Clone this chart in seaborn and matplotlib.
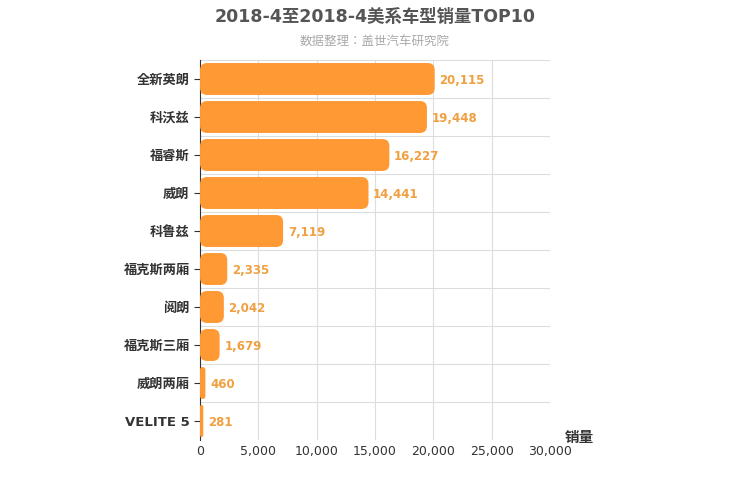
import matplotlib
matplotlib.use("Agg")
import matplotlib.pyplot as plt
import seaborn as sns
import pandas as pd
from matplotlib.patches import FancyBboxPatch

categories = ["全新英朗","科沃兹","福睿斯","威朗","科鲁兹","福克斯两厢","阅朗","福克斯三厢","威朗两厢","VELITE 5"]
values = [20115,19448,16227,14441,7119,2335,2042,1679,460,281]
xticks = [0,5000,10000,15000,20000,25000,30000]

plt.rcParams["font.family"] = ["DejaVu Sans","Noto Sans CJK JP","Noto Sans CJK SC","Noto Sans CJK TC","Noto Sans CJK KR"]
fig = plt.figure(figsize=(7.5,5), dpi=100)
ax = fig.add_axes([0.2667,0.12,0.4667,0.76])
df = pd.DataFrame({"c":categories,"v":values})
sns.barplot(data=df, x="v", y="c", color="#ff9933", width=0.84, ax=ax, saturation=1)
ax.set_xlim(0,30000); ax.set_ylim(9.5,-0.5)
asp = (10/380)/(30000/350)
for p in list(ax.patches):
    x,y,w,h = p.get_x(),p.get_y(),p.get_width(),p.get_height()
    r = min(600, w/2)
    fb = FancyBboxPatch((x,y),w,h,boxstyle=f"round,pad=0,rounding_size={r}",mutation_aspect=asp,
                        fc="#ff9933",ec="none",zorder=3)
    p.remove(); ax.add_patch(fb)
for i,v in enumerate(values):
    ax.text(v+400,i+0.05,f"{v:,}",va="center",ha="left",color="#f0a040",fontsize=8.5,fontweight="bold",zorder=4)
ax.set_xticks(xticks); ax.set_xticklabels([f"{t:,}" for t in xticks],fontsize=9,color="#333")
ax.set_yticks(range(10)); ax.set_yticklabels(categories,fontsize=9.5,color="#333",fontweight="bold")
for i in range(11):
    ax.axhline(i-0.5,color="#dddddd",lw=0.8,zorder=0)
for t in xticks[1:]:
    ax.axvline(t,color="#dddddd",lw=0.8,zorder=0)
for s in ["top","right","bottom"]: ax.spines[s].set_visible(False)
ax.spines["left"].set_color("#333")
ax.tick_params(axis="y",length=4,color="#333")
ax.tick_params(axis="x",length=0)
ax.set_xlabel(""); ax.set_ylabel("")
fig.text(0.7533,0.11,"销量",fontsize=10.5,fontweight="bold",color="#333",ha="left",va="bottom")
fig.text(0.5,0.965,"2018-4至2018-4美系车型销量TOP10",ha="center",va="center",fontsize=12.5,fontweight="bold",color="#555")
fig.text(0.5,0.918,"数据整理：盖世汽车研究院",ha="center",va="center",fontsize=9,color="#aaa")
fig.savefig("out.png",dpi=100)
